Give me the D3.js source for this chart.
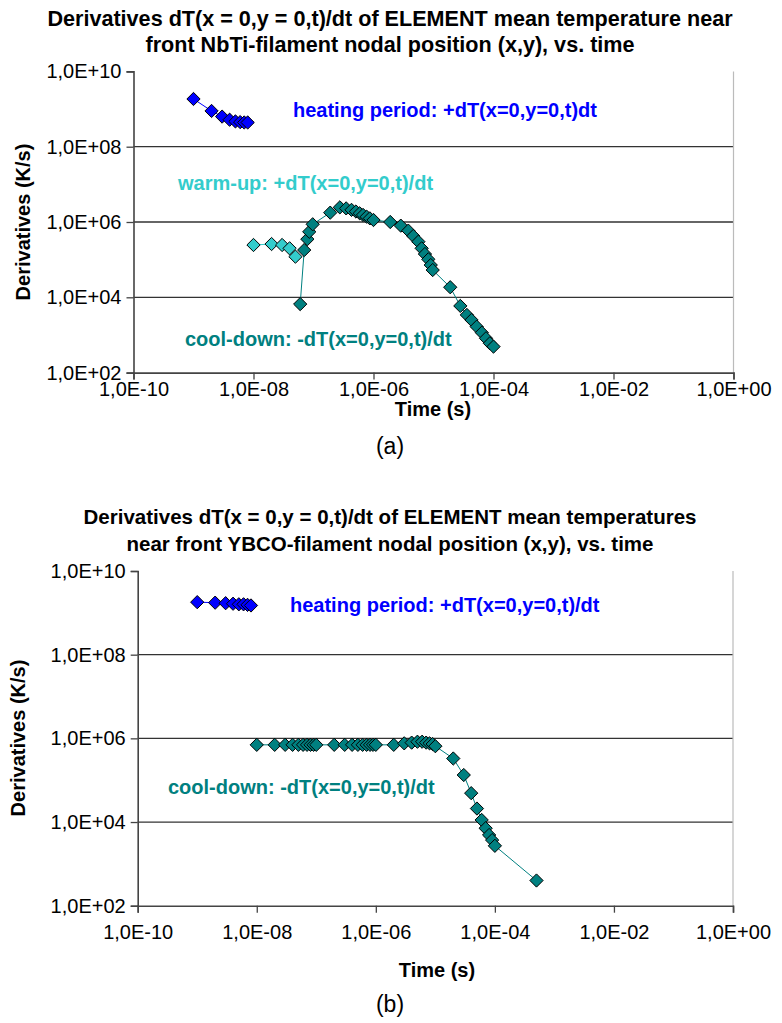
<!DOCTYPE html>
<html>
<head>
<meta charset="utf-8">
<script src="https://cdn.jsdelivr.net/npm/d3@7"></script>
<style>
  html, body { margin: 0; padding: 0; background: #fff; }
  svg { display: block; }
  text { font-family: "Liberation Sans", Arial, sans-serif; }
</style>
</head>
<body>
<svg id="fig" width="782" height="1023"></svg>
<script>
// ---- Panel (a): NbTi filament ----
const aHeatTime = [1e-9, 2e-9, 3e-9, 4e-9, 5e-9, 6e-9, 7e-9, 8e-9];
const aHeatRate = [1.85e9, 8.9e8, 6.3e8, 5.2e8, 4.7e8, 4.5e8, 4.4e8, 4.4e8];

const aWarmTime = [1e-8, 2e-8, 3e-8, 4e-8, 5e-8];
const aWarmRate = [2.45e5, 2.6e5, 2.45e5, 2.0e5, 1.2e5];

const aCoolTime = [6e-8, 7e-8, 7.9e-8, 8.5e-8, 9.7e-8, 1.9e-7, 2.75e-7, 3.5e-7, 4.3e-7, 5.1e-7,
                   5.9e-7, 6.7e-7, 7.7e-7, 8.7e-7, 1e-6, 1.9e-6, 2.85e-6, 3.8e-6, 4.6e-6, 5.6e-6,
                   6.35e-6, 7.2e-6, 8.2e-6, 9e-6, 9.7e-6, 1.9e-5, 2.8e-5, 3.6e-5, 4.3e-5, 5.25e-5,
                   6.4e-5, 7.5e-5, 8.7e-5, 1e-4];
const aCoolRate = [6.6e3, 1.8e5, 3.5e5, 5.5e5, 8.7e5, 1.77e6, 2.45e6, 2.3e6, 2.1e6, 1.9e6,
                   1.7e6, 1.54e6, 1.38e6, 1.25e6, 1.13e6, 1.0e6, 8.0e5, 5.9e5, 4.25e5, 3.0e5,
                   2.0e5, 1.41e5, 1.02e5, 7.2e4, 5.3e4, 1.85e4, 5.9e3, 3.4e3, 2.5e3, 1.66e3,
                   1.15e3, 815, 600, 490];

// ---- Panel (b): YBCO filament ----
const bHeatTime = [1e-9, 2e-9, 3e-9, 4e-9, 5e-9, 6e-9, 7e-9, 8e-9];
const bHeatRate = [1.8e9, 1.75e9, 1.7e9, 1.65e9, 1.6e9, 1.6e9, 1.55e9, 1.5e9];

const bCoolTime = [1e-8, 2e-8, 3e-8, 4e-8, 5e-8, 6e-8, 7e-8, 8e-8, 9e-8,
                   1e-7, 2e-7, 3e-7, 4e-7, 5e-7, 6e-7, 7e-7, 8e-7, 9e-7,
                   1e-6, 2e-6, 3e-6, 4e-6, 5e-6, 6e-6, 7e-6, 8e-6, 9e-6,
                   1e-5, 2e-5, 3e-5, 4e-5, 5e-5, 6e-5, 7e-5, 8e-5, 9e-5, 1e-4, 5e-4];
const bCoolRate = [7.0e5, 7.0e5, 7.0e5, 7.0e5, 7.0e5, 7.0e5, 7.0e5, 7.0e5, 7.0e5,
                   7.0e5, 7.0e5, 7.0e5, 7.0e5, 7.0e5, 7.0e5, 7.0e5, 7.0e5, 7.0e5,
                   7.0e5, 7.0e5, 7.6e5, 7.9e5, 8.3e5, 8.3e5, 7.9e5, 7.6e5, 7.3e5,
                   6.5e5, 3.3e5, 1.33e5, 4.9e4, 2.1e4, 1.12e4, 7.1e3, 4.9e3, 3.7e3, 2.7e3, 400];

// Axis tick values and labels
const xTicks = [1e-10, 1e-8, 1e-6, 1e-4, 1e-2, 1];
const yTicks = [1e2, 1e4, 1e6, 1e8, 1e10];
const sciLabel = v => {
  const e = Math.round(Math.log10(v));
  return "1,0E" + (e < 0 ? "-" : "+") + String(Math.abs(e)).padStart(2, "0");
};

const COLORS = { heat: "#0000FF", warm: "#33CCCC", cool: "#008080" };

const svg = d3.select("#fig");
const zip = (t, r) => t.map((v, i) => ({ t: v, r: r[i] }));

function drawPanel(p) {
  const g = svg.append("g");
  const x = d3.scaleLog().domain([1e-10, 1]).range([p.left, p.right]);
  const y = d3.scaleLog().domain([1e2, 1e10]).range([p.bottom, p.top]);

  // title
  p.title.forEach((line, i) => {
    g.append("text").attr("x", 390).attr("y", p.titleY[i])
      .attr("text-anchor", "middle").attr("font-weight", "bold")
      .attr("font-size", p.titleSize).attr("fill", "#000").text(line);
  });

  // horizontal gridlines
  g.append("g").selectAll("line").data([1e4, 1e6, 1e8]).join("line")
    .attr("x1", p.left).attr("x2", p.right)
    .attr("y1", d => y(d)).attr("y2", d => y(d))
    .attr("stroke", "#333").attr("stroke-width", 1.3);

  // right plot-area edge
  g.append("line").attr("x1", p.right).attr("x2", p.right)
    .attr("y1", p.top).attr("y2", p.bottom)
    .attr("stroke", "#bbb").attr("stroke-width", 1.2);

  // axes
  const ya = g.append("g").attr("transform", `translate(${p.left},0)`)
    .call(d3.axisLeft(y).tickValues(yTicks).tickFormat(sciLabel).tickSize(7).tickPadding(5));
  const xa = g.append("g").attr("transform", `translate(0,${p.bottom})`)
    .call(d3.axisBottom(x).tickValues(xTicks).tickFormat(sciLabel).tickSize(7).tickPadding(p.xPad));
  [ya, xa].forEach(a => {
    a.select(".domain").attr("stroke", "#444").attr("stroke-width", 1.6);
    a.selectAll(".tick line").attr("stroke", "#444").attr("stroke-width", 1.3);
    a.selectAll(".tick text").attr("font-size", 20).attr("fill", "#000")
      .attr("font-family", '"Liberation Sans", Arial, sans-serif');
  });

  // axis titles
  g.append("text").attr("transform", `translate(${p.yTitle[0]},${p.yTitle[1]}) rotate(-90)`)
    .attr("text-anchor", "middle").attr("font-weight", "bold").attr("font-size", 20)
    .text("Derivatives (K/s)");
  g.append("text").attr("x", p.xTitle[0]).attr("y", p.xTitle[1])
    .attr("text-anchor", "middle").attr("font-weight", "bold").attr("font-size", 20)
    .text("Time (s)");

  // series: thin connecting line + diamond markers
  const line = d3.line().x(d => x(d.t)).y(d => y(d.r));
  const diamond = d3.symbol().type(d3.symbolDiamond2).size(112);
  p.series.forEach(s => {
    const data = zip(s.t, s.r);
    g.append("path").datum(data).attr("d", line)
      .attr("fill", "none").attr("stroke", s.color).attr("stroke-width", 1);
    g.append("g").selectAll("path").data(data).join("path")
      .attr("transform", d => `translate(${x(d.t)},${y(d.r)})`)
      .attr("d", diamond)
      .attr("fill", s.color).attr("stroke", "#000").attr("stroke-width", 1);
  });

  // in-plot series annotations
  p.notes.forEach(n => {
    g.append("text").attr("x", n.x).attr("y", n.y)
      .attr("font-weight", "bold").attr("font-size", 20).attr("fill", n.color).text(n.text);
  });

  // panel letter
  g.append("text").attr("x", 390).attr("y", p.letterY).attr("text-anchor", "middle")
    .attr("font-family", '"Liberation Serif", "Times New Roman", serif')
    .attr("font-size", 23).text(p.letter);
}

drawPanel({
  left: 133.5, right: 733.5, top: 71.4, bottom: 372.6,
  title: ["Derivatives dT(x = 0,y = 0,t)/dt of ELEMENT mean temperature near",
          "front NbTi-filament nodal position (x,y), vs. time"],
  titleY: [26, 52], titleSize: 21.6,
  xPad: 2,
  yTitle: [30, 222], xTitle: [433, 416],
  letter: "(a)", letterY: 454,
  series: [
    { t: aHeatTime, r: aHeatRate, color: COLORS.heat },
    { t: aWarmTime, r: aWarmRate, color: COLORS.warm },
    { t: aCoolTime, r: aCoolRate, color: COLORS.cool }
  ],
  notes: [
    { x: 293, y: 117, color: COLORS.heat, text: "heating period: +dT(x=0,y=0,t)dt" },
    { x: 178, y: 190, color: COLORS.warm, text: "warm-up: +dT(x=0,y=0,t)/dt" },
    { x: 185, y: 346, color: COLORS.cool, text: "cool-down: -dT(x=0,y=0,t)/dt" }
  ]
});

drawPanel({
  left: 137.7, right: 733, top: 571, bottom: 905.7,
  title: ["Derivatives dT(x = 0,y = 0,t)/dt of ELEMENT mean temperatures",
          "near front YBCO-filament nodal position (x,y), vs. time"],
  titleY: [524, 551], titleSize: 20.5,
  xPad: 12,
  yTitle: [25, 738], xTitle: [437, 977],
  letter: "(b)", letterY: 1012,
  series: [
    { t: bHeatTime, r: bHeatRate, color: COLORS.heat },
    { t: bCoolTime, r: bCoolRate, color: COLORS.cool }
  ],
  notes: [
    { x: 290, y: 612, color: COLORS.heat, text: "heating period: +dT(x=0,y=0,t)/dt" },
    { x: 168, y: 794, color: COLORS.cool, text: "cool-down: -dT(x=0,y=0,t)/dt" }
  ]
});
</script>
</body>
</html>
